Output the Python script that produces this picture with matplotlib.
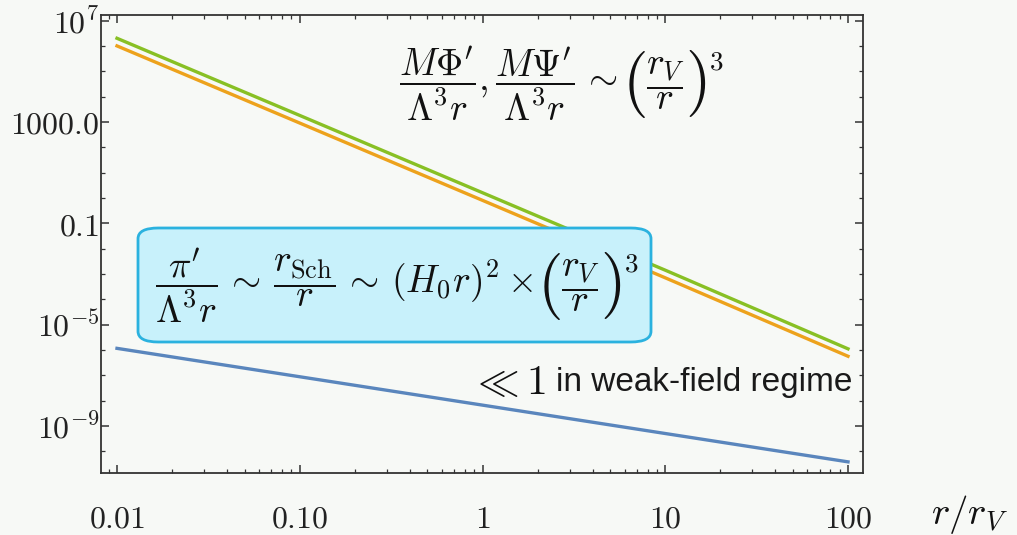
import numpy as np
import matplotlib.pyplot as plt
from matplotlib.patches import FancyBboxPatch
from matplotlib.ticker import FixedLocator, LogLocator, NullFormatter

plt.rcParams["mathtext.fontset"] = "cm"
plt.rcParams["font.family"] = "DejaVu Serif"

# dane (r / r_V)
r = [0.01, 0.1, 1, 10, 100]
phi_green = [2.0e6, 1.8e3, 1.6, 1.4e-3, 1.1e-6]
psi_orange = [1.0e6, 9.0e2, 0.8, 7.0e-4, 5.6e-7]
pi_blue = [1.15e-6, 8.7e-8, 6.6e-9, 5.0e-10, 3.8e-11]

xticks = [0.01, 0.1, 1, 10, 100]
xlabels = ["0.01", "0.10", "1", "10", "100"]
yticks = [1e-9, 1e-5, 1e-1, 1e3, 1e7]
ylabels = ["$10^{-9}$", "$10^{-5}$", "$0.1$", "$1000.0$", "$10^{7}$"]

bg = "#f7f9f6"
W, H = 1017, 535
fig = plt.figure(figsize=(W / 100, H / 100), dpi=100, facecolor=bg)
ax = fig.add_axes([101 / W, 1 - 473 / H, (863 - 101) / W, (473 - 15) / H])
ax.set_facecolor(bg)

ax.plot(r, phi_green, color="#88c024", lw=2.4, zorder=2)
ax.plot(r, psi_orange, color="#eda21c", lw=2.4, zorder=2)
ax.plot(r, pi_blue, color="#5a86bd", lw=2.4, zorder=2)

ax.set_xscale("log")
ax.set_yscale("log")
ax.set_xlim(10 ** -2.0875, 10 ** 2.082)
ax.set_ylim(10 ** -10.86, 10 ** 7.22)

ax.xaxis.set_major_locator(FixedLocator(xticks))
ax.set_xticklabels(["$" + s + "$" for s in xlabels])
ax.xaxis.set_minor_locator(LogLocator(base=10, subs=np.arange(2, 10)))
ax.xaxis.set_minor_formatter(NullFormatter())
ax.yaxis.set_major_locator(FixedLocator(yticks))
ax.set_yticklabels(ylabels)
ax.yaxis.set_minor_locator(LogLocator(base=10, subs=[1.0], numticks=30))
ax.yaxis.set_minor_formatter(NullFormatter())

ax.tick_params(which="both", direction="in", top=True, right=True, colors="#333333", labelcolor="#222222")
ax.tick_params(which="major", length=6, width=1.1, labelsize=23)
ax.tick_params(which="minor", length=3, width=0.9)
ax.tick_params(axis="x", which="major", pad=22)
ax.tick_params(axis="y", which="major", pad=1)
for s in ax.spines.values():
    s.set_color("#333333")
    s.set_linewidth(1.3)


# wzór z dużymi nawiasami składany z kawałków
def wzor(x0, y0, lewa, fs, z=3):
    kw = dict(color="#111111", zorder=z, annotation_clip=False)
    t0 = ax.text(x0 / W, 1 - y0 / H, lewa, fontsize=fs, ha="left", va="center",
                 color="#111111", zorder=z, transform=fig.transFigure, clip_on=False)
    p1 = ax.annotate("$($", xy=(1, 0.5), xycoords=t0, xytext=(3, 0), textcoords="offset points",
                     fontsize=fs * 1.75, ha="left", va="center", **kw)
    fr = ax.annotate(r"$\dfrac{r_V}{r}$", xy=(1, 0.5), xycoords=p1, xytext=(0, 0),
                     textcoords="offset points", fontsize=fs, ha="left", va="center", **kw)
    p2 = ax.annotate("$)$", xy=(1, 0.5), xycoords=fr, xytext=(0, 0), textcoords="offset points",
                     fontsize=fs * 1.75, ha="left", va="center", **kw)
    ax.annotate("$3$", xy=(1, 1), xycoords=p2, xytext=(2, 0), textcoords="offset points",
                fontsize=fs * 0.72, ha="left", va="top", **kw)


wzor(399, 84, r"$\dfrac{M\Phi'}{\Lambda^3 r},\dfrac{M\Psi'}{\Lambda^3 r}\,\sim$", 27)

box = FancyBboxPatch((138 / W, 1 - 342 / H), (651 - 138) / W, (342 - 228) / H,
                     boxstyle="round,pad=0,rounding_size=0.02", transform=fig.transFigure,
                     facecolor="#c8f1fb", edgecolor="#2bb2df", lw=2, zorder=5, clip_on=False)
ax.add_patch(box)
wzor(155, 286, r"$\dfrac{\pi'}{\Lambda^3 r}\,\sim\,\dfrac{r_{\mathrm{Sch}}}{r}\,\sim\,(H_0 r)^2\times$", 27, z=6)

fig.text(508 / W, 1 - 382 / H, r"$\ll 1$", fontsize=30, ha="center", va="center", color="#111111")
fig.text(556 / W, 1 - 382 / H, "in weak-field regime", family="Liberation Sans",
         fontsize=24, ha="left", va="center", color="#1a1a1a")

fig.text(970 / W, 1 - 514 / H, r"$r/r_V$", fontsize=28, ha="center", va="center", color="#111111")

fig.savefig("out.png", dpi=100, facecolor=bg)
